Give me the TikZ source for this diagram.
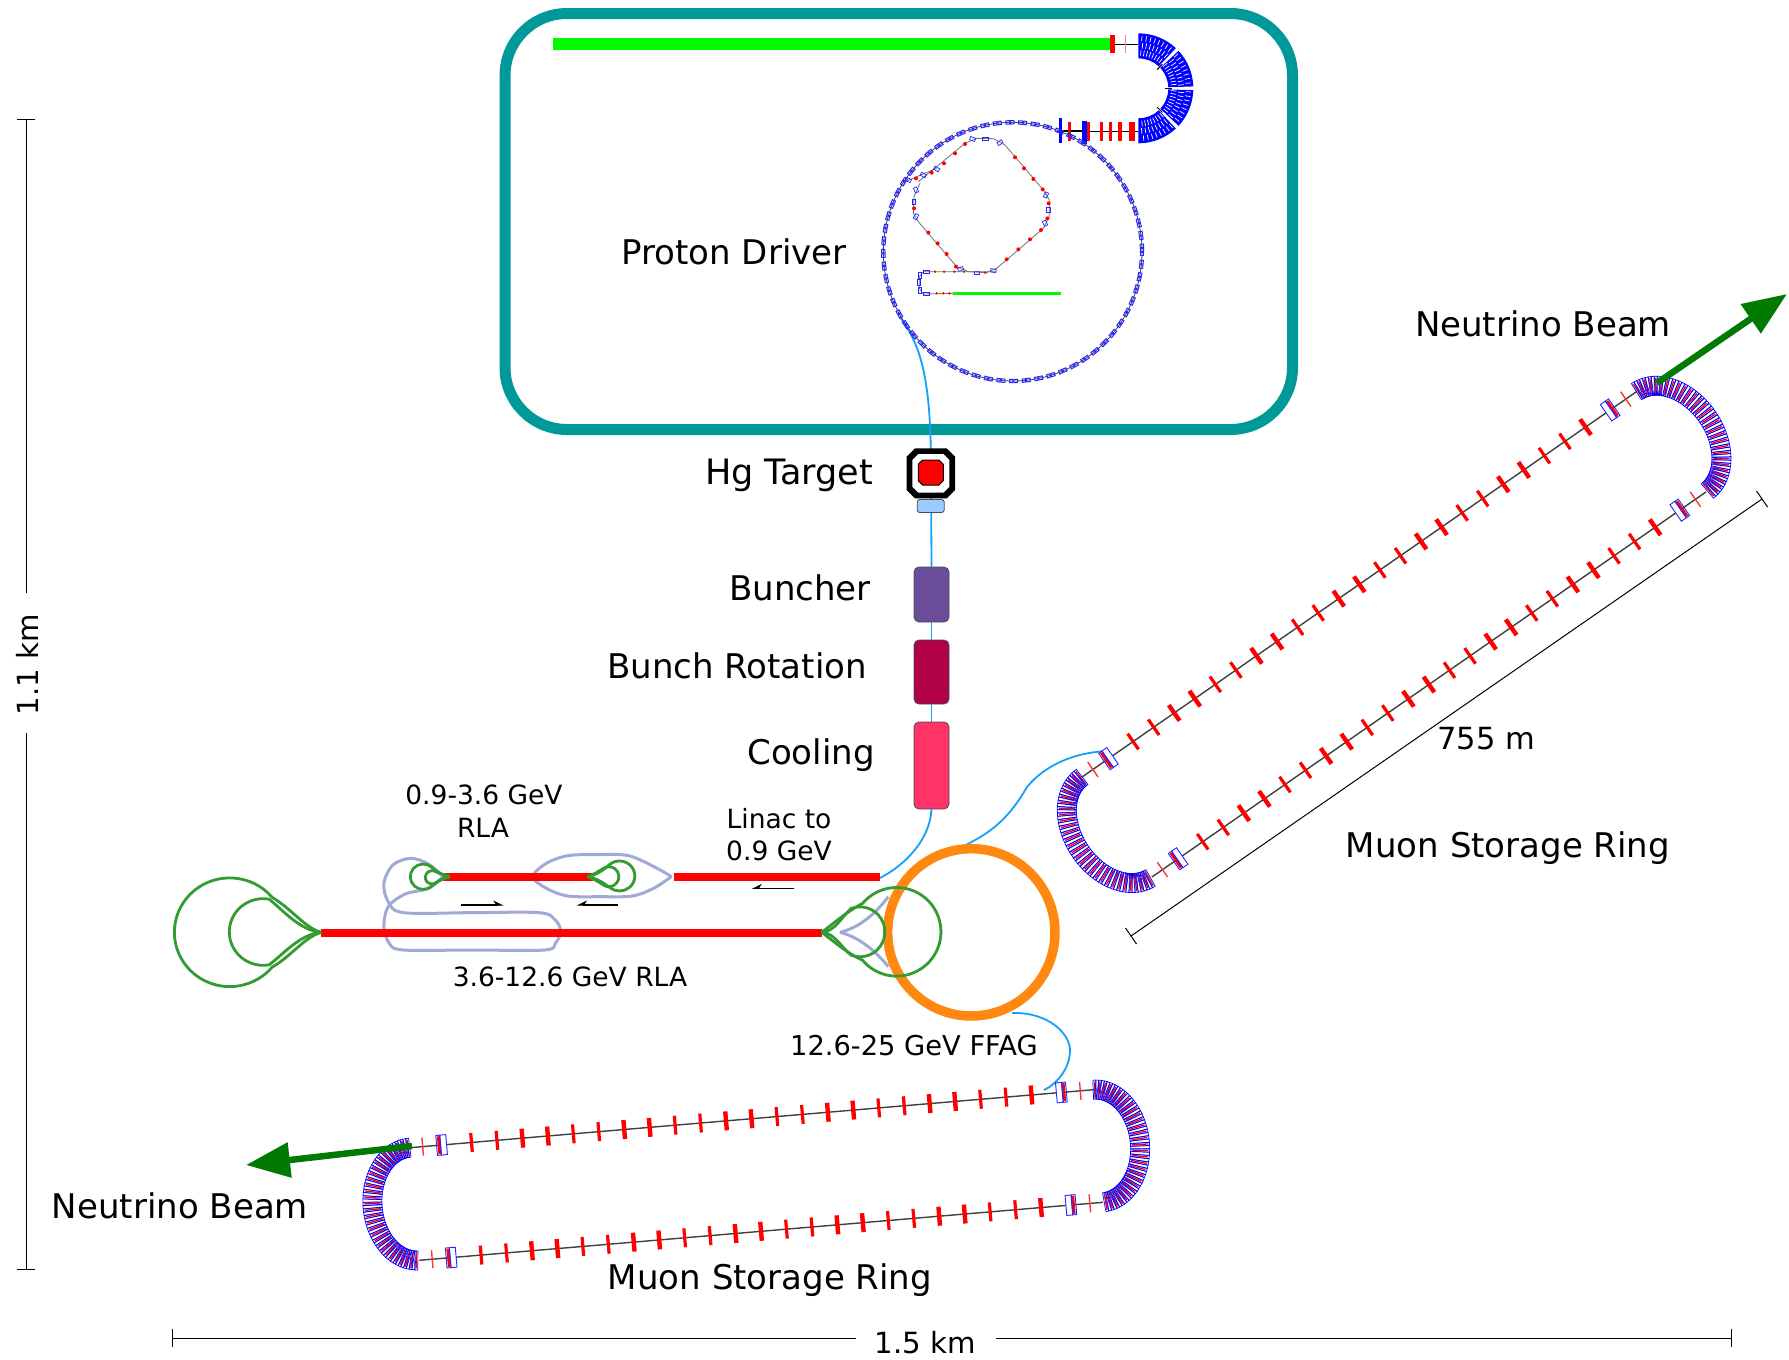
\documentclass[tikz,border=0pt]{standalone}
\usepackage{fontspec}
\setmainfont{DejaVu Sans}
\usetikzlibrary{arrows.meta}
\definecolor{tealb}{RGB}{0,153,153}
\definecolor{grnbar}{RGB}{0,250,0}
\definecolor{rred}{RGB}{255,0,0}
\definecolor{cy}{RGB}{20,160,250}
\definecolor{grn}{RGB}{50,155,50}
\definecolor{peri}{RGB}{160,170,215}
\definecolor{orng}{RGB}{255,136,17}
\definecolor{dgreen}{RGB}{0,122,0}
\definecolor{bun}{RGB}{107,76,154}
\definecolor{rot}{RGB}{176,0,70}
\definecolor{coolc}{RGB}{255,51,102}
\definecolor{lblue}{RGB}{153,204,255}
\tikzset{
 lab/.style={font=\fontsize{34}{40}\selectfont,inner sep=0pt},
 labs/.style={font=\fontsize{26.5}{32}\selectfont,inner sep=0pt},
 labd/.style={font=\fontsize{29.2}{34}\selectfont,inner sep=0pt},
 stage/.style={draw=black!70,line width=0.8pt,rounded corners=5pt,minimum width=35pt,inner sep=0pt,outer sep=0pt},
 cyl/.style={draw=cy,line width=1.8pt},
 grnl/.style={draw=grn,line width=2.8pt},
 peril/.style={draw=peri,line width=3pt},
 redbar/.style={draw=rred,line width=8pt},
 dim/.style={draw=black,line width=1pt},
 ghost/.style={draw=blue!85,line width=0.9pt},
 smr/.style={draw=black,line width=1.2pt,-{Stealth[harpoon,length=9pt,width=9pt]}},
 sml/.style={draw=black,line width=1.2pt,-{Stealth[harpoon,swap,length=9pt,width=9pt]}},
 beam/.style={draw=dgreen,line width=6.5pt,-{Triangle[length=44pt,width=34pt]}},
}
% cx, cy, angle, length, half separation, arc sagitta
\newcommand{\muring}[6]{%
\begin{scope}[shift={(#1,#2)},rotate=#3]
 \draw[draw=black!75,line width=1.4pt] (0,-#5)--(#4,-#5) (0,#5)--(#4,#5);
 \foreach \i in {0,...,22}{%
  \pgfmathsetmacro\tu{62+\i*(#4-124)/22}%
  \pgfmathsetmacro\tw{mod(\i,4)<2?3.2:4.4}%
  \draw[draw=rred,line width=\tw pt] (\tu,-#5-9.5)--(\tu,-#5+9.5);
  \draw[draw=rred,line width=\tw pt] (\tu,#5-9.5)--(\tu,#5+9.5);
 }
 \foreach \s in {-1,1}{%
  \draw[draw=rred!80,line width=1.4pt] (13,\s*#5-9)--(13,\s*#5+9);
  \draw[draw=rred!80,line width=1.4pt] (#4-13,\s*#5-9)--(#4-13,\s*#5+9);
  \draw[draw=rred,line width=4pt] (30,\s*#5-9)--(30,\s*#5+9);
  \draw[draw=rred,line width=4pt] (#4-30,\s*#5-9)--(#4-30,\s*#5+9);
  \draw[ghost,fill=white] (31,\s*#5-10) rectangle (37,\s*#5+10);
  \draw[ghost,fill=white] (#4-37,\s*#5-10) rectangle (#4-31,\s*#5+10);
  \draw[ghost] (27,\s*#5-10) rectangle (31,\s*#5+10);
  \draw[ghost] (#4-31,\s*#5-10) rectangle (#4-27,\s*#5+10);
 }
 \foreach \a [count=\c] in {-88,-85,...,88}{%
  \pgfmathsetmacro\ex{#6*cos(\a)}%
  \pgfmathsetmacro\ey{#5*sin(\a)}%
  \pgfmathsetmacro\rt{atan2(#6*sin(\a),#5*cos(\a))}%
  \pgfmathtruncatemacro\odd{mod(\c,2)}%
  \begin{scope}[shift={(#4+\ex,\ey)},rotate=-\rt]
   \draw[draw=blue,line width=0.7pt] (-9.5,-1.5) rectangle (9.5,1.5);
   \ifnum\odd=1 \draw[draw=rred,line width=1.3pt] (-8,0)--(8,0);\fi
  \end{scope}
  \begin{scope}[shift={(-\ex,\ey)},rotate=\rt]
   \draw[draw=blue,line width=0.7pt] (-9.5,-1.5) rectangle (9.5,1.5);
   \ifnum\odd=1 \draw[draw=rred,line width=1.3pt] (-8,0)--(8,0);\fi
  \end{scope}}
\end{scope}}
\begin{document}
\begin{tikzpicture}[x=1pt,y=-1pt]
\useasboundingbox (0,0) rectangle (1789,1360);
\fill[white] (0,0) rectangle (1789,1360);
% proton driver frame
\draw[draw=tealb,line width=11pt,rounded corners=62pt] (505,13.5) rectangle (1292.5,429.5);
% cyan transfer lines
\coordinate (tgt) at (931,469);
\coordinate (linacend) at (880,878);
\coordinate (ringA) at (1109,751);
\coordinate (ffagA) at (962,847);
\coordinate (ffagB) at (1012,1013);
\coordinate (ringB) at (1044,1090);
\draw[cyl] (900,317) .. controls (920,345) and (931,375) .. (tgt);
% stages
\node[stage,fill=bun,minimum height=55pt] (buncher) at (931.5,594.5) {};
\node[stage,fill=rot,minimum height=64pt] (rotation) at (931.5,672) {};
\node[stage,fill=coolc,minimum height=87pt] (cooling) at (931.5,765.5) {};
\draw[cyl] (tgt) -- (buncher.north);
\draw[cyl] (buncher.south) -- (rotation.north);
\draw[cyl] (rotation.south) -- (cooling.north);
\draw[cyl] (cooling.south) .. controls (930,840) and (905,865) .. (linacend);
\draw[cyl] (ffagA) .. controls (985,835) and (1005,825) .. (1027,787) .. controls (1045,765) and (1075,752) .. (ringA);
\draw[cyl] (ffagB) .. controls (1050,1012) and (1070,1035) .. (1070,1050) .. controls (1070,1070) and (1055,1085) .. (ringB);
% target
\begin{scope}[shift={(880,430)},scale=1/3]
 \fill[black] (105,55)--(200,55)--(225,80)--(225,180)--(200,205)--(105,205)--(80,180)--(80,80)--cycle;
 \fill[white] (115,72)--(190,72)--(208,90)--(208,170)--(190,188)--(115,188)--(97,170)--(97,90)--cycle;
 \draw[fill=rred,draw=black,line width=1pt] (128,90)--(177,90)--(190,103)--(190,152)--(177,165)--(128,165)--(115,152)--(115,103)--cycle;
 \node[draw=black!70,fill=lblue,line width=0.8pt,rounded corners=2.5pt,minimum width=27pt,minimum height=13pt,inner sep=0pt] (probe) at (152,228) {};
\end{scope}
% proton driver
\begin{scope}[shift={(840,0)},scale=1/3]
 % linac
 \draw[draw=grnbar,line width=12pt] (-861,132)--(810,132);
 \draw[draw=black,line width=1pt] (810,133)--(895,133);
 \draw[draw=rred,line width=5.5pt] (818,105)--(818,158);
 \draw[draw=rred!50,line width=1.5pt] (857,105)--(857,160);
 % U arc
 \foreach \g/\b in {-90/-47,-43/-2,2/43,47/90}{%
  \fill[blue] (895,265)++(\g:165) arc[start angle=\g,end angle=\b,radius=165]
     -- ++(\b:-75) arc[start angle=\b,end angle=\g,radius=90] -- cycle;
 }
 \foreach \a in {-86,-81,...,86}{%
  \draw[draw=white,line width=0.7pt] (895,265)++(\a:98)--++(\a:17);
  \draw[draw=white,line width=0.7pt] (895,265)++(\a+1.5:120)--++(\a+1.5:17);
  \draw[draw=white,line width=0.7pt] (895,265)++(\a:142)--++(\a:16);
 }
 \foreach \a in {-45,0,45}{\draw[draw=black,line width=1pt] (895,265)++(\a:80)--++(\a:22);}
 % bottom line
 \draw[draw=black,line width=1.2pt] (660,395)--(895,395);
 \draw[draw=black,line width=2pt] (670,393)--(725,393);
 \foreach \x in {688,745,785,812,840,872,880}{\draw[draw=rred,line width=3.2pt] (\x,367)--(\x,423);}
 \draw[draw=blue,line width=3.5pt] (662,355)--(662,428);
 \draw[draw=blue,line width=4.5pt] (733,362)--(733,432);
 \draw[draw=blue,line width=1.5pt] (652,395)--(672,395);
 % main ring
 \draw[draw=black!75,line width=0.8pt] (518,755) circle[radius=388];
 \foreach \a in {0,5.6,...,359}{%
  \begin{scope}[shift={(518,755)},shift={(\a:388)},rotate=-\a]
   \draw[ghost,line width=1pt] (-5,-12) rectangle (5,-1);
   \draw[ghost,line width=1pt] (-5,2) rectangle (5,12);
  \end{scope}}
 % booster
 \draw[draw=black!55,line width=0.8pt] (235,545)--(375,430)--(410,415)--(460,416)--(495,435)--(610,570)--(628,600)--(628,650)--(610,685)--(470,805)--(440,818)--(385,815)--(350,800)--(235,665)--(220,640)--(222,590)--(240,550);
 \draw[draw=black!55,line width=0.8pt] (195,545)--(290,505);
 \foreach \x/\y in {375/432,345/460,312/490,275/518,228/535,525/472,552/505,580/537,608/568,626/610,622/655,603/690,570/718,535/748,500/778,348/800,320/762,293/730,265/698,222/625}{\fill[rred] (\x,\y) circle[radius=6];}
 \foreach \x/\y/\r in {398/417/-20,436/416/0,480/428/35,618/585/65,625/630/90,615/670/115,460/812/-10,410/818/0,362/807/25,228/650/60,222/605/90,228/570/115,205/540/-25,250/525/-30,290/507/-30}{%
  \begin{scope}[shift={(\x,\y)},rotate=\r]\draw[ghost,line width=0.7pt] (-8,-5) rectangle (8,5);\end{scope}}
 % injection line
 \draw[draw=black!55,line width=0.8pt] (470,815)--(250,815)--(238,830)--(238,865)--(250,882)--(340,880);
 \foreach \x/\y in {285/815,312/815,343/815,372/815,435/818,290/880,310/880,328/880}{\fill[rred] (\x,\y) circle[radius=4];}
 \foreach \x/\y/\r in {260/815/0,240/825/90,238/848/90,240/870/90,258/882/0}{%
  \begin{scope}[shift={(\x,\y)},rotate=\r]\draw[ghost,line width=0.7pt] (-9,-4.5) rectangle (9,4.5);\end{scope}}
 \draw[draw=grnbar,line width=3pt] (340,880)--(662,880);
\end{scope}
% RLAs
\begin{scope}[shift={(150,760)},xscale=1/2.8,yscale=1/3]
 \draw[peril] plot[smooth,tension=0.55] coordinates {(1460,350)(1420,325)(1340,287)(1250,284)(1170,287)(1110,310)(1072,350)(1110,385)(1170,408)(1260,410)(1350,408)(1410,385)(1460,350)};
 \draw[peril] plot[smooth,tension=0.55] coordinates {(820,350)(780,312)(730,295)(680,315)(655,370)(667,425)(710,458)(900,458)(1090,458)(1135,480)(1150,515)(1135,550)(1105,570)(900,570)(710,570)(670,550)(655,500)(667,440)(715,402)(780,385)(820,350)};
 \draw[redbar] (820,350)--(1240,350);
 \draw[redbar] (1468,350)--(2044,350);
 \draw[redbar] (480,519)--(1882,519);
 \draw[grnl] (480,517) .. controls (435,505) and (395,445) .. (342,412) arc[start angle=-40,end angle=-320,x radius=155,y radius=163] .. controls (395,589) and (435,529) .. (480,517);
 \draw[grnl] (480,517) .. controls (420,512) and (372,450) .. (333.5,417.5) arc[start angle=-80,end angle=-280,x radius=95,y radius=100] .. controls (372,584) and (420,522) .. (480,517);
 \draw[grnl] (840,350) .. controls (815,345) and (805,335) .. (788,321) arc[start angle=-50,end angle=-310,x radius=36,y radius=38] .. controls (805,365) and (815,355) .. (840,350);
 \draw[grnl] (840,350) .. controls (825,345) and (810,340) .. (799.5,334.7) arc[start angle=-60,end angle=-300,x radius=19,y radius=20] .. controls (810,360) and (825,355) .. (840,350);
 \draw[grnl] (1225,350) .. controls (1250,345) and (1270,330) .. (1287,313.5) arc[start angle=-130,end angle=130,x radius=43,y radius=45] .. controls (1270,368) and (1250,355) .. (1225,350);
 \draw[grnl] (1225,350) .. controls (1240,345) and (1255,335) .. (1271,324) arc[start angle=-120,end angle=120,x radius=28,y radius=30] .. controls (1255,365) and (1240,355) .. (1225,350);
 \draw[smr] (870,435)--(990,435);
 \draw[sml] (1310,435)--(1195,435);
\end{scope}
\begin{scope}[shift={(700,780)},scale=1/3]
 \draw[peril] (420,457) .. controls (470,445) and (520,410) .. (565,350);
 \draw[peril] (420,457) .. controls (470,469) and (520,505) .. (565,560);
 \draw[draw=orng,line width=9.5pt] (814,457) circle[radius=251];
 \draw[grnl] (365,457) .. controls (395,435) and (440,395) .. (488,370) arc[start angle=-140,end angle=140,radius=133] .. controls (440,519) and (395,479) .. (365,457);
 \draw[grnl] (365,457) .. controls (405,455) and (425,410) .. (454,385) arc[start angle=-110,end angle=110,radius=75] .. controls (425,504) and (405,459) .. (365,457);
 \draw[sml] (283,325)--(155,325);
\end{scope}
% muon storage rings
\muring{1117}{827}{34.8}{675}{61}{44}
\muring{414.5}{1204}{4.85}{686}{56.5}{42}
% neutrino beam arrows
\coordinate (arrA0) at (1657,383);
\coordinate (arrA1) at (1787,294);
\coordinate (arrB0) at (412,1146);
\coordinate (arrB1) at (246,1165);
\draw[beam] (arrA0)--(arrA1);
\draw[beam] (arrB0)--(arrB1);
% dimension lines
\coordinate (h0) at (172,1338); \coordinate (h1) at (1731,1338);
\coordinate (v0) at (26,119); \coordinate (v1) at (26,1269);
\draw[dim] (h0)--(856,1338) (996,1338)--(h1);
\draw[dim] (172,1329)--(172,1347) (1731,1329)--(1731,1347);
\draw[dim] (v0)--(26,593) (26,733)--(v1);
\draw[dim] (17,119)--(35,119) (17,1269)--(35,1269);
\coordinate (d0) at (1762,499); \coordinate (d1) at (1131,936);
\draw[dim] (d0)--(d1);
\draw[dim] (1756.5,491)--(1767.5,507) (1125.5,928)--(1136.5,944);
% labels
\node[lab] (ln1) at (734,252) {Proton Driver};
\node[lab,font=\fontsize{35}{40}\selectfont] (ln2) at (789,475) {Hg Target};
\node[lab] (ln3) at (800,588) {Buncher};
\node[lab] (ln4) at (737,666) {Bunch Rotation};
\node[lab] (ln5) at (811,755) {Cooling};
\node[labs] (ln6) at (484,795) {0.9-3.6 GeV};
\node[labs] (ln7) at (483,828) {RLA};
\node[labs] (ln8) at (779,819) {Linac to};
\node[labs] (ln9) at (779,851) {0.9 GeV};
\node[labs] (ln10) at (570,977) {3.6-12.6 GeV RLA};
\node[labs,font=\fontsize{27.3}{32}\selectfont] (ln11) at (914,1046) {12.6-25 GeV FFAG};
\node[lab] (ln12) at (1543,324) {Neutrino Beam};
\node[lab] (ln13) at (180,1206) {Neutrino Beam};
\node[labd,font=\fontsize{30.5}{34}\selectfont] (ln14) at (1486,739) {755 m};
\node[lab] (ln15) at (1508,848) {Muon Storage Ring};
\node[lab] (ln16) at (770,1280) {Muon Storage Ring};
\node[labd,rotate=90] (ln17) at (27,665) {1.1 km};
\node[labd] (ln18) at (925,1343) {1.5 km};
\end{tikzpicture}
\end{document}
